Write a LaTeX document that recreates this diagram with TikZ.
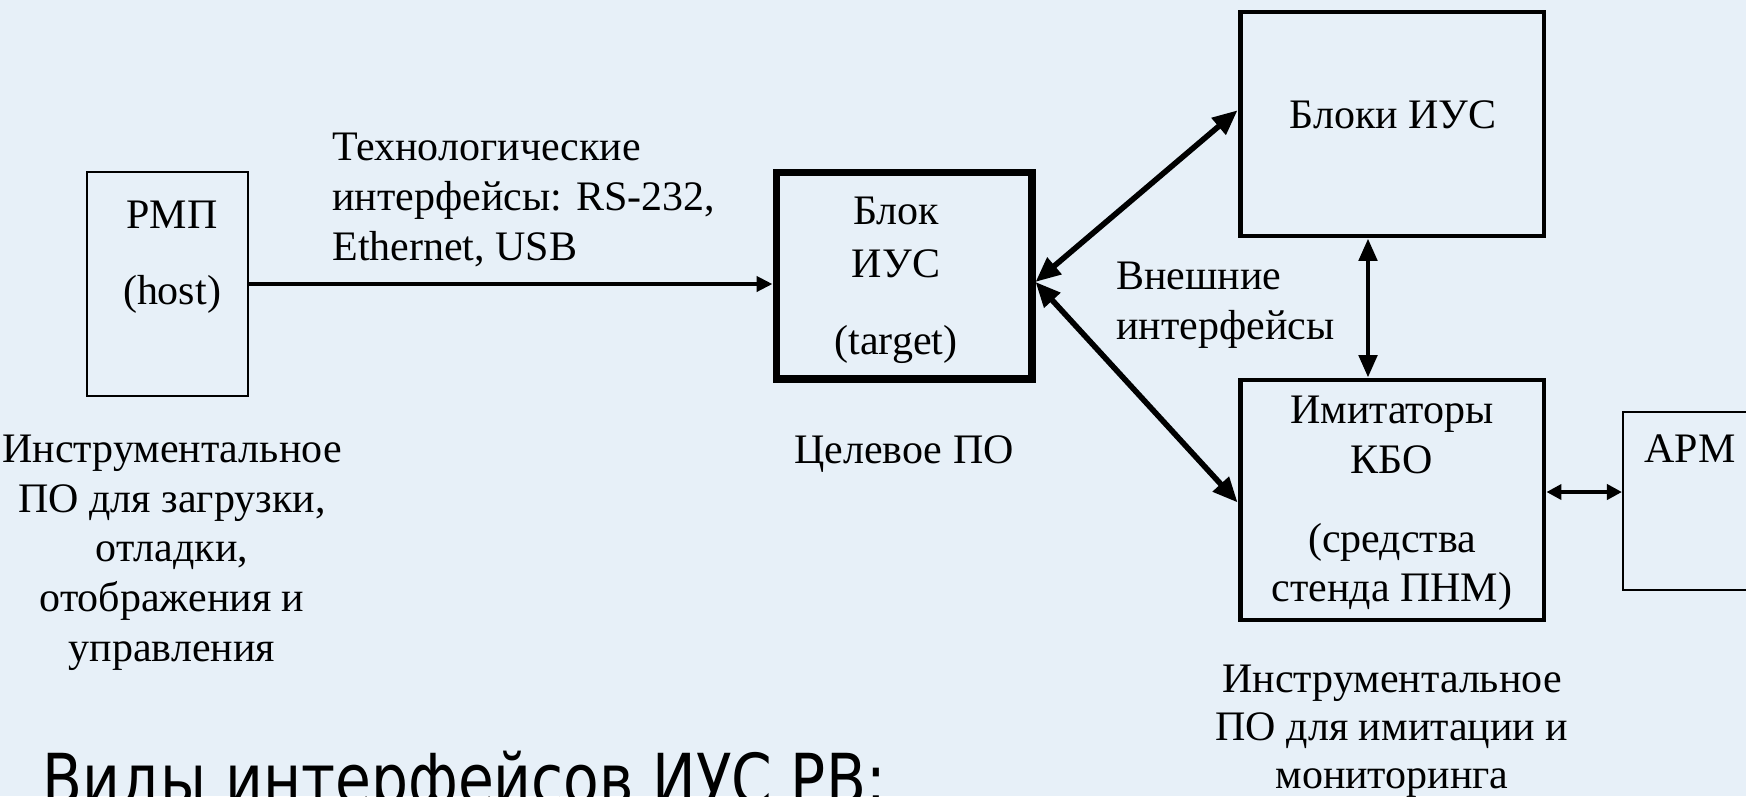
\documentclass[tikz,border=0pt]{standalone}
\usepackage{fontspec}
\setmainfont{Liberation Serif}
\newfontfamily\titlefont[FakeStretch=0.83]{DejaVu Sans}
\usetikzlibrary{calc, positioning, arrows.meta}
\definecolor{slidebg}{RGB}{231,240,248}

\tikzset{
  lbl/.style={inner sep=0pt, font=\fontsize{23.9}{28}\selectfont},
  thinbox/.style={draw, line width=1.2pt, inner sep=0pt},
  boldbox/.style={draw, line width=2.8pt, inner sep=0pt},
}

\begin{document}
\begin{tikzpicture}[x=0.02cm, y=-0.02cm]
    \useasboundingbox (0,0) rectangle (1746,796);
    \clip (0,0) rectangle (1746,796);
    \fill[slidebg] (0,0) rectangle (1746,796);

    \node[thinbox, minimum width=3.22cm, minimum height=4.48cm] (rmp) at (167.5,284) {};
    \node[draw, line width=4pt, minimum width=5.12cm, minimum height=4.14cm] (blok) at (904,275.5) {};
    \node[boldbox, minimum width=6.08cm, minimum height=4.48cm] (blocks) at (1392,124) {};
    \node[boldbox, minimum width=6.08cm, minimum height=4.8cm] (imit) at (1392,500) {};
    \node[thinbox, minimum width=3.74cm, minimum height=3.56cm] (apm) at (1716.5,501) {};

    \node[lbl, anchor=base] (rmpname) at (172,228) {РМП};
    \node[lbl, anchor=base] (rmphost) at (172,304) {(host)};

    \node[lbl, anchor=base] (blokname) at (896,224) {Блок};
    \node[lbl, anchor=base] (blokius) at (896,277) {ИУС};
    \node[lbl, anchor=base] (bloktarget) at (896,354) {(target)};

    \node[lbl, anchor=base] (blocksname) at (1393,128) {Блоки ИУС};

    \node[lbl, anchor=base] (imitname) at (1392,423) {Имитаторы};
    \node[lbl, anchor=base] (imitkbo) at (1392,473) {КБО};
    \node[lbl, anchor=base] (imitsr) at (1392,552) {(средства};
    \node[lbl, anchor=base] (imitst) at (1392,601) {стенда ПНМ)};

    \node[lbl, anchor=base west] (apmname) at (1644,462) {АРМ};

    % multi-line labels: base = last line
    \node[lbl, anchor=base west, align=left, font=\fontsize{23.9}{28.45}\selectfont] (techlbl) at (332,260)
        {Технологические\\интерфейсы: RS-232,\\Ethernet, USB};
    \node[lbl, anchor=base west, align=left, font=\fontsize{23.9}{28.45}\selectfont] (extlbl) at (1116,339)
        {Внешние\\интерфейсы};

    \node[lbl, anchor=base, align=center, font=\fontsize{23.9}{28.2}\selectfont] (hostsw) at (172,661)
        {Инструментальное\\ПО для загрузки,\\отладки,\\отображения и\\управления};
    \node[lbl, anchor=base] (targetsw) at (904,463) {Целевое ПО};
    \node[lbl, anchor=base, align=center, font=\fontsize{23.9}{27.3}\selectfont] (imitsw) at (1392,788)
        {Инструментальное\\ПО для имитации и\\мониторинга};

    \node[inner sep=0pt, anchor=base west, font=\titlefont\fontsize{40}{48}\selectfont] (title) at (42,804)
        {Виды интерфейсов ИУС РВ:};

    % connections
    \draw[-{Triangle[length=0.32cm, width=0.3cm]}, line width=2.8pt] (rmp.east) -- (rmp.east -| blok.west);
    \draw[{Triangle[length=0.5cm, width=0.42cm]}-{Triangle[length=0.5cm, width=0.42cm]}, line width=3.2pt]
        ($(blok.north east)!0.53!(blok.south east)$) -- ($(blocks.north west)!0.44!(blocks.south west)$);
    \draw[{Triangle[length=0.5cm, width=0.42cm]}-{Triangle[length=0.5cm, width=0.42cm]}, line width=3.2pt]
        ($(blok.north east)!0.53!(blok.south east)$) -- ($(imit.north west)!0.51!(imit.south west)$);
    \draw[{Triangle[length=0.45cm, width=0.36cm]}-{Triangle[length=0.45cm, width=0.36cm]}, line width=2.8pt]
        ($(blocks.south)+(-24,0)$) -- ($(imit.north)+(-24,0)$);
    \draw[{Triangle[length=0.3cm, width=0.3cm]}-{Triangle[length=0.3cm, width=0.3cm]}, line width=2.2pt]
        ($(imit.east)+(0,-8)$) -- ($(apm.west)+(0,-9)$);
\end{tikzpicture}
\end{document}
